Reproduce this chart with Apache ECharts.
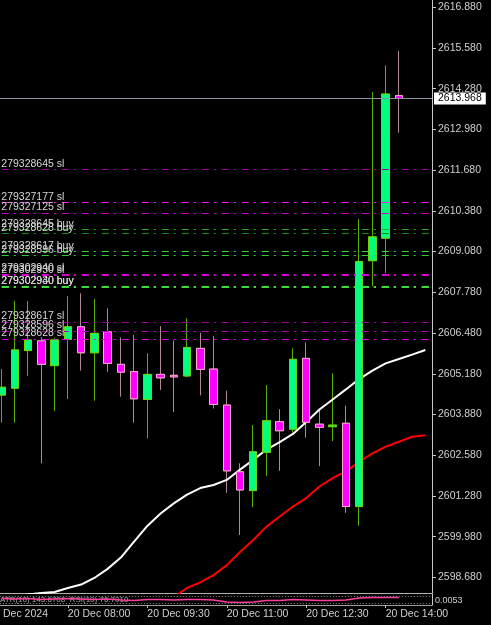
<!DOCTYPE html>
<html>
<head>
<meta charset="utf-8">
<script src="https://cdn.jsdelivr.net/npm/echarts@6/dist/echarts.min.js"></script>
<style>
html,body{margin:0;padding:0;background:#000;}
#chart{width:491px;height:625px;}
</style>
</head>
<body>
<div id="chart"></div>
<script>
// ---- DATA ----
const categories = ['06:30','06:45','07:00','07:15','07:30','07:45','08:00','08:15','08:30','08:45','09:00','09:15','09:30','09:45','10:00','10:15','10:30','10:45','11:00','11:15','11:30','11:45','12:00','12:15','12:30','12:45','13:00','13:15','13:30','13:45','14:00','14:15','14:30','14:45'];
const candleTimes = categories.slice(1, 32); // 06:45 .. 14:15
const opens  = [2604.50,2604.72,2605.92,2606.23,2605.44,2606.28,2606.68,2605.85,2606.52,2605.48,2605.25,2604.36,2605.16,2605.13,2605.11,2605.99,2605.33,2604.18,2602.05,2601.45,2602.67,2603.65,2603.41,2605.67,2603.57,2603.49,2603.60,2600.94,2608.79,2609.51,2614.06];
const closes = [2604.75,2605.94,2606.26,2605.48,2606.26,2606.68,2605.85,2606.47,2605.51,2605.23,2604.38,2605.16,2605.05,2605.08,2606.02,2605.32,2604.20,2602.08,2601.47,2602.69,2603.68,2603.36,2605.64,2603.63,2603.47,2603.54,2600.94,2608.76,2609.55,2614.11,2613.968];
const highs  = [2605.33,2607.51,2607.50,2606.35,2606.33,2607.66,2607.75,2607.57,2607.27,2606.34,2606.42,2605.83,2606.70,2606.24,2606.95,2606.49,2606.39,2604.64,2602.32,2603.54,2604.82,2604.05,2605.99,2606.18,2604.00,2605.19,2604.16,2610.12,2614.17,2615.02,2615.49];
const lows   = [2603.62,2603.62,2605.11,2602.32,2603.99,2604.37,2605.28,2604.32,2605.24,2604.45,2603.62,2603.12,2604.66,2603.96,2605.07,2604.49,2604.07,2601.38,2600.03,2600.92,2601.92,2602.08,2603.30,2603.14,2602.23,2603.03,2600.74,2600.33,2607.98,2608.39,2612.88];
// shifted moving averages (06:45 .. 14:45)
const maWhite = [2598.05,2598.08,2598.13,2598.18,2598.21,2598.34,2598.45,2598.66,2598.95,2599.31,2599.82,2600.32,2600.72,2601.04,2601.32,2601.53,2601.63,2601.79,2602.12,2602.43,2602.76,2603.00,2603.26,2603.64,2604.04,2604.36,2604.68,2605.01,2605.28,2605.51,2605.65,2605.79,2605.94];
const maRed   = [null,null,null,null,null,null,null,null,null,null,null,null,null,2598.05,2598.34,2598.52,2598.75,2599.07,2599.49,2599.87,2600.30,2600.62,2600.94,2601.21,2601.58,2601.85,2602.06,2602.37,2602.64,2602.85,2603.01,2603.17,2603.22];
const oscValues = [59,54.5,59,50,54.5,59,54.5,50,54.5,45.5,41,50,50,45.5,50,50,45.5,27,23,27,41,41,50,45.5,41,41,45.5,64,68,68,68];
const oscLevels = [80,20];
const oscLabelValues = [58,44];
const oscLabels = ['94.3176','0.0053'];
const oscCaption = 'ATR(10) 143.6708  RSI(10) 76.7010';
const priceTicks = [2616.88,2615.58,2614.28,2612.98,2611.68,2610.38,2609.08,2607.78,2606.48,2605.18,2603.88,2602.58,2601.28,2599.98,2598.68];
const timeTickAt = ['06:30','08:00','09:30','11:00','12:30','14:00'];
const timeTickLabels = ['20 Dec 2024','20 Dec 08:00','20 Dec 09:30','20 Dec 11:00','20 Dec 12:30','20 Dec 14:00'];
const orderPrices = [2611.695,2610.654,2610.312,2609.792,2609.651,2609.077,2608.962,2608.374,2608.323,2607.972,2607.972,2606.832,2606.554,2606.289];
const orderLabels = ['279328645 sl','279327177 sl','279327125 sl','279328645 buy','279328628 buy','279328617 buy','279328596 buy','279302940 sl','279302930 sl','279302930 buy','279302940 buy','279328617 sl','279328596 sl','279328628 sl'];
const lastPrice = 2613.968;

// ---- STYLE ----
const orderColors = ['#a000a0','#ff10ff','#c800c8','#2aa82a','#1a861a','#3ada3a','#34c834','#d800d8','#d800d8','#3ae03a','#3ae03a','#a000a0','#b400b4','#e000e0'];
const orderWidths = [1,1,1,1,1,1,1,1,1,2,2,1,1,1];
const FONT = "'Liberation Sans', Arial, sans-serif";

// ---- BUILD ----
function slotOf(t){ return categories.indexOf(t); }
const wickData = categories.map(() => '-');
const bodyData = categories.map(() => '-');
candleTimes.forEach((t, k) => {
  const s = slotOf(t);
  wickData[s] = [opens[k], closes[k], lows[k], highs[k]];
  bodyData[s] = [opens[k], closes[k], Math.min(opens[k], closes[k]), Math.max(opens[k], closes[k])];
});
const whiteData = categories.map((c, s) => s === 0 ? null : maWhite[s - 1]);
const redData = categories.map((c, s) => s === 0 ? null : maRed[s - 1]);
const oscData = categories.map((c, s) => (s >= 1 && s <= 31) ? oscValues[s - 1] : null);

const orderLines = orderPrices.map((p, k) => ({
  yAxis: p,
  name: orderLabels[k],
  lineStyle: { color: orderColors[k], width: orderWidths[k], type: [7,5,2,6], opacity: 1 },
  label: {
    show: true, position: 'insideStartTop', distance: [19.5, 0],
    formatter: '{b}', color: '#d8d8d8', fontSize: 10.5, fontFamily: FONT
  }
}));
orderLines.push({
  yAxis: lastPrice,
  name: 'price',
  lineStyle: { color: '#8a94a4', width: 1, type: 'solid' },
  label: {
    show: true, position: 'end', distance: 2,
    formatter: () => lastPrice.toFixed(3),
    color: '#000', backgroundColor: '#fff', padding: [1, 4, 0, 4],
    fontSize: 10.5, fontFamily: FONT
  }
});

const tickInterval = (i, v) => timeTickAt.indexOf(v) >= 0;

const chart = echarts.init(document.getElementById('chart'), null, { renderer: 'canvas' });
chart.setOption({
  backgroundColor: '#000',
  animation: false,
  grid: [
    { left: -18.2, right: 59, top: 0, height: 593, outerBoundsMode: 'none', containLabel: false },
    { left: -18.2, right: 59, top: 594, height: 11, outerBoundsMode: 'none', containLabel: false }
  ],
  xAxis: [
    { type: 'category', gridIndex: 0, data: categories, boundaryGap: true,
      axisLine: { show: true, lineStyle: { color: '#b0b0b0', width: 1 } },
      axisTick: { show: false }, axisLabel: { show: false }, splitLine: { show: false } },
    { type: 'category', gridIndex: 1, data: categories, boundaryGap: true,
      axisLine: { show: true, lineStyle: { color: '#a0a0a0', width: 1 } },
      axisTick: { show: true, alignWithLabel: true, interval: tickInterval, length: 3, lineStyle: { color: '#c0c0c0' } },
      axisLabel: { show: true, interval: tickInterval, align: 'left', margin: 4,
        formatter: (v) => timeTickLabels[timeTickAt.indexOf(v)],
        color: '#d0d0d0', fontSize: 10.5, fontFamily: FONT },
      splitLine: { show: false } }
  ],
  yAxis: [
    { type: 'value', gridIndex: 0, position: 'right', min: 2598.180, max: 2617.113, scale: true,
      axisLine: { show: true, lineStyle: { color: '#c8c8c8', width: 1 } },
      axisTick: { show: true, customValues: priceTicks, length: 4, lineStyle: { color: '#c8c8c8' } },
      axisLabel: { show: true, customValues: priceTicks, formatter: (v) => v.toFixed(3), margin: 6,
        color: '#d0d0d0', fontSize: 10.5, fontFamily: FONT },
      splitLine: { show: false } },
    { type: 'value', gridIndex: 1, position: 'right', min: 0, max: 100,
      axisLine: { show: true, lineStyle: { color: '#c8c8c8', width: 1 } },
      axisTick: { show: false },
      axisLabel: { show: true, customValues: oscLabelValues,
        formatter: (v) => oscLabels[oscLabelValues.indexOf(v)], margin: 3,
        color: '#d0d0d0', fontSize: 9, fontFamily: FONT },
      splitLine: { show: false } }
  ],
  series: [
    { type: 'candlestick', name: 'wicks', xAxisIndex: 0, yAxisIndex: 0, data: wickData, barWidth: 8, z: 2,
      itemStyle: { color: 'rgba(0,0,0,0)', color0: 'rgba(0,0,0,0)', borderColor: '#5cb000', borderColor0: '#b08890', borderWidth: 1 },
      markLine: { silent: true, symbol: ['none', 'none'], animation: false, data: orderLines } },
    { type: 'line', name: 'MA white', xAxisIndex: 0, yAxisIndex: 0, data: whiteData, showSymbol: false, z: 3,
      lineStyle: { color: '#ffffff', width: 2 }, connectNulls: false },
    { type: 'line', name: 'MA red', xAxisIndex: 0, yAxisIndex: 0, data: redData, showSymbol: false, z: 3,
      lineStyle: { color: '#ff0000', width: 2 }, connectNulls: false },
    { type: 'candlestick', name: 'bodies', xAxisIndex: 0, yAxisIndex: 0, data: bodyData, barWidth: 8, z: 4,
      itemStyle: { color: '#00ff7f', color0: '#ff00ff', borderColor: '#72d400', borderColor0: '#ffa8d0', borderWidth: 1 } },
    { type: 'line', name: 'osc', xAxisIndex: 1, yAxisIndex: 1, data: oscData, showSymbol: false, z: 3,
      lineStyle: { color: '#ff3fa0', width: 1.5 },
      markLine: { silent: true, symbol: ['none', 'none'], animation: false, label: { show: false },
        lineStyle: { color: '#909090', type: [1, 2], width: 1 },
        data: oscLevels.map(v => ({ yAxis: v })) } }
  ],
  graphic: [
    { type: 'text', left: 0, top: 596, silent: true,
      style: { text: oscCaption, fill: '#a8a8a8', font: "8px 'Liberation Sans', Arial, sans-serif" } }
  ]
});
</script>
</body>
</html>
